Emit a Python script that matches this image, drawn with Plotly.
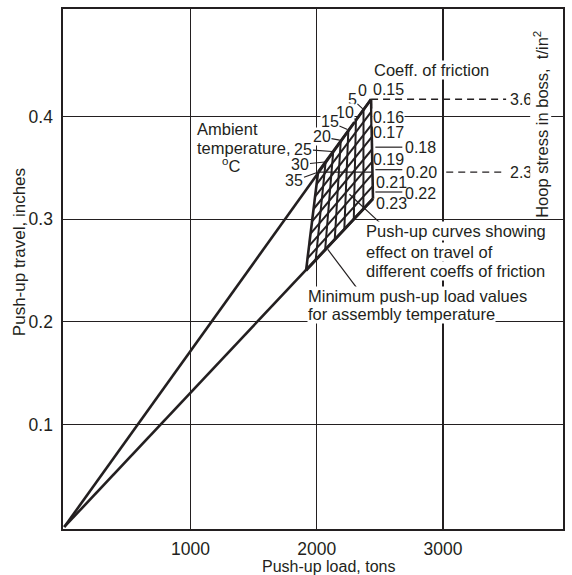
import plotly.graph_objects as go

# ---------------- data ----------------
temps = [0, 5, 10, 15, 20, 25, 30, 35]                       # ambient temperature, degC
friction = [0.15, 0.16, 0.17, 0.18, 0.19, 0.20, 0.21, 0.22, 0.23]

# push-up curve (one per coefficient of friction): end at 0 degC and at 35 degC
load_0C = [2430, 2432, 2433, 2435, 2437, 2438, 2440, 2442, 2445]
travel_0C = [0.417, 0.405, 0.392, 0.380, 0.368, 0.356, 0.344, 0.332, 0.320]
load_35C = [2010, 1998, 1986, 1975, 1963, 1951, 1939, 1927, 1915]
travel_35C = [0.346, 0.334, 0.322, 0.310, 0.298, 0.286, 0.274, 0.262, 0.250]

# minimum push-up load line (one per temperature): end on 0.15 curve and on 0.23 curve
load_f015 = [2430, 2370, 2310, 2250, 2190, 2130, 2070, 2010]
travel_f015 = [0.417, 0.407, 0.397, 0.387, 0.377, 0.366, 0.356, 0.346]
load_f023 = [2445, 2369, 2293, 2218, 2142, 2066, 1991, 1915]
travel_f023 = [0.320, 0.310, 0.300, 0.290, 0.280, 0.270, 0.260, 0.250]

hoop_stress = [3.6, 2.3]          # t/in^2
hoop_travel = [0.417, 0.346]

x_ticks = [1000, 2000, 3000]
y_ticks = [0.1, 0.2, 0.3, 0.4]
y_ticktext = ["0.1", "0.2", "0.3", "0.4"]

# ---------------- geometry ----------------
X0, X1 = -10, 3950
Y0, Y1 = -0.002, 0.505
ML, MR, MT, MB = 63, 8, 7, 46
W = 572 - ML - MR
H = 575 - MT - MB
BOT = MT + H

INK = "#231f20"
FONT = "Liberation Sans, Arial, sans-serif"


def to_px(x, y):
    return ML + (x - X0) / (X1 - X0) * W, BOT - (y - Y0) / (Y1 - Y0) * H


def px_x(px):
    return X0 + (px - ML) / W * (X1 - X0)


def paper(px, py):
    return (px - ML) / W, (BOT - py) / H


fig = go.Figure()

# white body of the nomogram grid (hides axis grid lines underneath)
poly_x = load_f015 + load_35C + load_f023[::-1] + load_0C[::-1]
poly_y = travel_f015 + travel_35C + travel_f023[::-1] + travel_0C[::-1]
fig.add_trace(go.Scatter(x=poly_x, y=poly_y, fill="toself", fillcolor="white",
                         mode="lines", line=dict(width=0), hoverinfo="skip"))

# long push-up lines from the origin
for i in (0, len(friction) - 1):
    fig.add_trace(go.Scatter(x=[0, load_0C[i]], y=[0, travel_0C[i]], mode="lines",
                             line=dict(color=INK, width=2.6), hoverinfo="skip"))

# push-up curves for each coefficient of friction
for i in range(len(friction)):
    w = 2.6 if i in (0, len(friction) - 1) else 2.0
    fig.add_trace(go.Scatter(x=[load_35C[i], load_0C[i]], y=[travel_35C[i], travel_0C[i]],
                             mode="lines", line=dict(color=INK, width=w), hoverinfo="skip"))

# minimum push-up load lines for each temperature
for j in range(len(temps)):
    w = 2.6 if j in (0, len(temps) - 1) else 2.0
    fig.add_trace(go.Scatter(x=[load_f015[j], load_f023[j]], y=[travel_f015[j], travel_f023[j]],
                             mode="lines", line=dict(color=INK, width=w), hoverinfo="skip"))

# hoop stress reference lines
x_end = px_x(507)
fig.add_trace(go.Scatter(x=[load_0C[0], x_end], y=[hoop_travel[0]] * 2, mode="lines",
                         line=dict(color=INK, width=1.3, dash="7px,5px"), hoverinfo="skip"))
fig.add_trace(go.Scatter(x=[load_f015[-1], load_0C[6]], y=[hoop_travel[1]] * 2, mode="lines",
                         line=dict(color=INK, width=1.3), hoverinfo="skip"))
fig.add_trace(go.Scatter(x=[px_x(447), x_end], y=[hoop_travel[1]] * 2, mode="lines",
                         line=dict(color=INK, width=1.3, dash="7px,5px"), hoverinfo="skip"))

annotations = []
shapes = []


def text(s, px, py, size=16.5, bg=None, xanchor="center", angle=0):
    x, y = paper(px, py)
    a = dict(text=s, x=x, y=y, xref="paper", yref="paper", showarrow=False,
             xanchor=xanchor, yanchor="middle", textangle=angle,
             font=dict(size=size, color=INK, family=FONT), borderpad=0)
    if bg:
        a["bgcolor"] = bg
    annotations.append(a)


def seg(p0, p1, width=1.2):
    x0, y0 = paper(*p0)
    x1, y1 = paper(*p1)
    shapes.append(dict(type="line", xref="paper", yref="paper", x0=x0, y0=y0, x1=x1, y1=y1,
                       line=dict(color=INK, width=width)))


# friction labels
fric_lbl_px = [(389.5, 87.5), (389, 116), (389, 131), (421, 146), (389.5, 158.5),
               (422.5, 171), (391.7, 181), (421.7, 192.5), (391.7, 202.5)]
for f, (lx, ly) in zip(friction, fric_lbl_px):
    text(f"{f:.2f}", lx, ly, size=16, bg="white" if f == 0.16 else None)
for ly in (145.7, 168.3, 190.7):
    seg((376, ly), (403, ly))

text("Coeff. of friction", 432, 68, bg="white")

# hoop stress values and title
for s, tr in zip(hoop_stress, hoop_travel):
    _, py = to_px(0, tr)
    text(f"{s}", 521.5, py, size=16)
text("Hoop stress in boss,  t/in<sup>2</sup>", 541.7, 122.5, bg="white", angle=-90)

# temperature labels with leaders to the 0.15 curve
temp_lbl_px = [(363, 89), (353, 97.5), (345.5, 110.5), (330.5, 120), (322.5, 135.5),
               (304, 148), (301, 163), (295, 179.5)]
for j, (t, (lx, ly)) in enumerate(zip(temps, temp_lbl_px)):
    if j == 0:
        text(str(t), lx, ly, size=16)
        continue
    px, py = to_px(load_f015[j], travel_f015[j])
    annotations.append(dict(text=str(t), x=load_f015[j], y=travel_f015[j], xref="x", yref="y",
                            showarrow=True, arrowhead=0, arrowwidth=1.1, arrowcolor=INK,
                            ax=lx - px, ay=ly - py, standoff=1,
                            font=dict(size=16, color=INK, family=FONT),
                            bgcolor="white", borderpad=0))

text("Ambient", 196, 127.5, xanchor="left")
text("temperature,", 196, 147, xanchor="left")
text("<sup>o</sup>C", 231, 164)

# explanatory notes
text("Push-up curves showing", 366, 229.5, xanchor="left", bg="white")
text("effect on travel of", 366, 250.5, xanchor="left", bg="white")
text("different coeffs of friction", 366, 270.5, xanchor="left", bg="white")
seg((382, 223), (350, 193))

text("Minimum push-up load values", 307, 295.5, xanchor="left", bg="white")
text("for assembly temperature", 307, 313.5, xanchor="left", bg="white")
seg((358.3, 288.3), (328.3, 248.3))

# axis titles
text("Push-up load, tons", 329, 567, size=16)
text("Push-up travel, inches", 19, 251, size=17, angle=-90)

axis_common = dict(showgrid=True, gridcolor=INK, gridwidth=1.3, zeroline=False,
                   showline=True, linecolor=INK, linewidth=1.6, mirror=True, ticks="",
                   tickfont=dict(size=17.5, color=INK, family=FONT))
fig.update_xaxes(range=[X0, X1], tickvals=x_ticks, ticklabelstandoff=3, **axis_common)
fig.update_yaxes(range=[Y0, Y1], tickvals=y_ticks, ticktext=y_ticktext,
                 ticklabelstandoff=5, **axis_common)

fig.update_layout(width=572, height=575, margin=dict(l=ML, r=MR, t=MT, b=MB),
                  paper_bgcolor="white", plot_bgcolor="white", showlegend=False,
                  font=dict(family=FONT, color=INK),
                  annotations=annotations, shapes=shapes)

fig.write_html("out.html", config={"displayModeBar": False, "staticPlot": True},
               post_script="document.body.style.margin='0';document.body.style.overflow='hidden';")
